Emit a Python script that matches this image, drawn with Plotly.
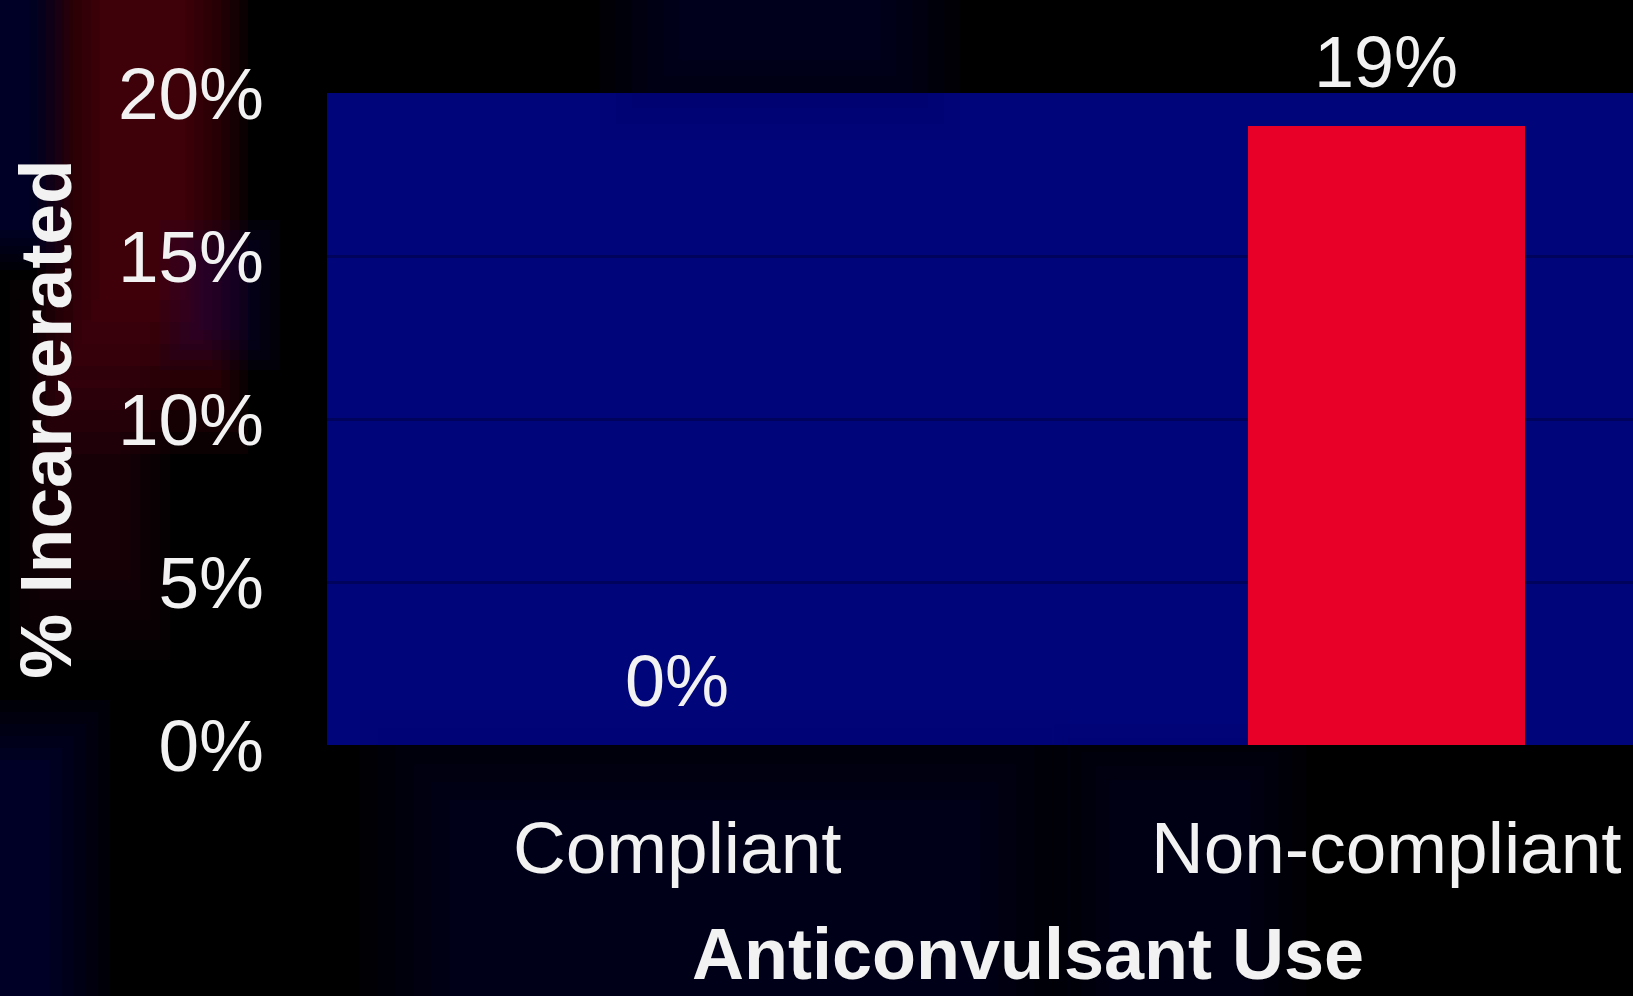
import plotly.graph_objects as go

# Chart data
categories = ["Compliant", "Non-compliant"]
incarcerated_pct = [0, 19]
bar_colors = ["#e80028", "#e80028"]
y_ticks = [0, 5, 10, 15, 20]
y_tick_labels = ["0%", "5%", "10%", "15%", "20%"]

FONT = "Liberation Sans, Arial, sans-serif"
TEXT = "#f2f2f2"
W, H = 1633, 996
M_L, M_R, M_T, M_B = 327, 0, 93, 251
PW, PH = W - M_L - M_R, H - M_T - M_B


def px_x(px):
    return (px - M_L) / PW


def px_y(py):
    return (H - M_B - py) / PH


def glow(x0, y0, x1, y1, rgb, steps, grow, alpha, grow_y=None):
    """Soft blob built from stacked translucent rectangles (pixel coords)."""
    gy = grow if grow_y is None else grow_y
    out = []
    for i in range(steps):
        out.append(dict(
            type="rect", xref="paper", yref="paper", layer="below",
            x0=px_x(x0 - i * grow), x1=px_x(x1 + i * grow),
            y0=px_y(y0 - i * gy), y1=px_y(y1 + i * gy),
            fillcolor=f"rgba({rgb},{alpha})", line=dict(width=0),
        ))
    return out


shapes = []
# dark red streak at the upper left
shapes += glow(100, -20, 185, 300, "120,0,25", 8, 9, 0.09, 22)
shapes += glow(60, 380, 120, 560, "90,0,40", 6, 10, 0.06, 20)
# navy haze around the edges of the slide background
shapes += glow(-40, -20, 30, 230, "0,0,110", 6, 8, 0.07)
shapes += glow(-40, 760, 50, 1020, "0,0,110", 6, 12, 0.07)
shapes += glow(200, 260, 240, 330, "30,0,110", 5, 10, 0.07)
shapes += glow(680, -20, 880, 60, "0,0,90", 6, 16, 0.07)
shapes += glow(450, 800, 980, 1020, "0,0,80", 6, 18, 0.06)
shapes += glow(1110, 780, 1250, 1020, "0,0,80", 5, 14, 0.06)

fig = go.Figure(
    go.Bar(
        x=categories,
        y=incarcerated_pct,
        marker=dict(color=bar_colors, line=dict(width=0)),
        width=0.39,
        hoverinfo="skip",
    )
)

# value labels above each bar
annotations = [
    dict(x=c, y=v, xref="x", yref="y", text=f"{v}%", showarrow=False,
         yshift=64, yanchor="middle",
         font=dict(family=FONT, size=72, color=TEXT))
    for c, v in zip(categories, incarcerated_pct)
]
# x-axis title
annotations.append(dict(
    x=px_x(1028), y=px_y(954), xref="paper", yref="paper",
    text="<b>Anticonvulsant Use</b>", showarrow=False,
    xanchor="center", yanchor="middle",
    font=dict(family=FONT, size=72, color=TEXT),
))

fig.update_layout(
    width=W, height=H, autosize=False,
    margin=dict(l=M_L, r=M_R, t=M_T, b=M_B, pad=0),
    paper_bgcolor="#000000",
    plot_bgcolor="#01057a",
    showlegend=False,
    bargap=0,
    shapes=shapes,
    annotations=annotations,
    xaxis=dict(
        type="category",
        range=[-0.494, 1.348],
        showgrid=False, zeroline=False, showline=False, ticks="",
        tickfont=dict(family=FONT, size=73, color=TEXT),
        ticklabelstandoff=54,
        fixedrange=True,
    ),
    yaxis=dict(
        range=[0, 20],
        tickvals=y_ticks, ticktext=y_tick_labels,
        showgrid=True, gridcolor="#00035c", gridwidth=3,
        zeroline=False, showline=False, ticks="",
        tickfont=dict(family=FONT, size=73, color=TEXT),
        ticklabelstandoff=62,
        title=dict(text="<b>% Incarcerated</b>", standoff=22,
                   font=dict(family=FONT, size=73, color=TEXT)),
        automargin=False,
        fixedrange=True,
    ),
)

fig.write_html("out.html", config={"displayModeBar": False})
